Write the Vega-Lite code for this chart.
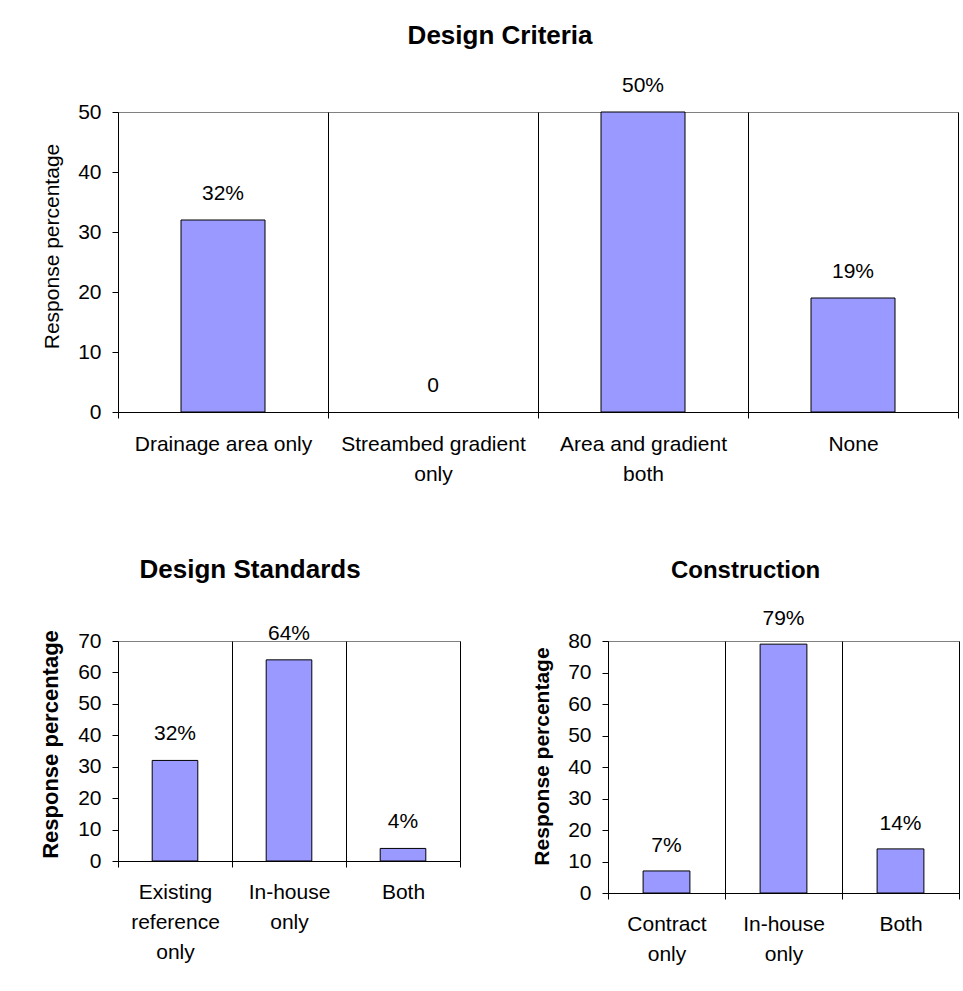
{
  "$schema": "https://vega.github.io/schema/vega-lite/v6.json",
  "padding": {"left": 39, "top": 22, "right": 0, "bottom": 0},
  "background": "white",
  "config": {
    "font": "Liberation Sans",
    "view": {"stroke": "#808080", "strokeWidth": 1},
    "axis": {
      "labelFont": "Liberation Sans", "titleFont": "Liberation Sans",
      "labelColor": "black", "titleColor": "black",
      "domainColor": "black", "tickColor": "black",
      "labelFontSize": 21, "titleFontSize": 21, "tickSize": 6
    },
    "title": {"font": "Liberation Sans", "fontSize": 26, "fontWeight": "bold", "color": "black", "anchor": "middle", "frame": "bounds"},
    "text": {"font": "Liberation Sans", "fontSize": 21, "color": "black"}
  },
  "datasets": {
    "criteria": [
      {"category": "Drainage area only", "value": 32, "label": "32%"},
      {"category": "Streambed gradient only", "value": 0, "label": "0"},
      {"category": "Area and gradient both", "value": 50, "label": "50%"},
      {"category": "None", "value": 19, "label": "19%"}
    ],
    "standards": [
      {"category": "Existing reference only", "value": 32, "label": "32%"},
      {"category": "In-house only", "value": 64, "label": "64%"},
      {"category": "Both", "value": 4, "label": "4%"}
    ],
    "construction": [
      {"category": "Contract only", "value": 7, "label": "7%"},
      {"category": "In-house only", "value": 79, "label": "79%"},
      {"category": "Both", "value": 14, "label": "14%"}
    ]
  },
  "spacing": 71,
  "vconcat": [
    {
      "title": {"text": "Design Criteria", "offset": 26},
      "width": 840,
      "height": 300,
      "data": {"name": "criteria"},
      "encoding": {
        "x": {
          "field": "category", "type": "nominal",
          "sort": ["Drainage area only", "Streambed gradient only", "Area and gradient both", "None"],
          "scale": {"paddingInner": 0, "paddingOuter": 0},
          "axis": {
            "title": null, "labelAngle": 0, "tickBand": "extent",
            "grid": true, "gridOpacity": 1,
            "gridColor": {"condition": {"test": "datum.index < 0", "value": "#808080"}, "value": "black"},
            "labelPadding": 15, "labelLineHeight": 30, "labelLimit": 0,
            "labelExpr": "datum.value == 'Streambed gradient only' ? ['Streambed gradient', 'only'] : datum.value == 'Area and gradient both' ? ['Area and gradient', 'both'] : datum.value"
          }
        },
        "y": {
          "field": "value", "type": "quantitative",
          "scale": {"domain": [0, 50], "nice": false},
          "axis": {"title": "Response percentage", "values": [0, 10, 20, 30, 40, 50], "grid": false, "labelPadding": 11, "titlePadding": 15, "titleFontWeight": "normal", "titleY": 134}
        }
      },
      "layer": [
        {"transform": [{"filter": "datum.value > 0"}], "mark": {"type": "bar", "width": {"band": 0.4}, "fill": "#9999FF", "stroke": "black", "strokeWidth": 1}},
        {"mark": {"type": "text", "baseline": "middle", "dy": -26}, "encoding": {"text": {"field": "label"}}}
      ]
    },
    {
      "spacing": 70,
      "hconcat": [
        {
          "title": {"text": "Design Standards", "offset": 40},
          "width": 342,
          "height": 220,
          "data": {"name": "standards"},
          "encoding": {
            "x": {
              "field": "category", "type": "nominal", "sort": null,
              "scale": {"paddingInner": 0, "paddingOuter": 0},
              "axis": {
                "title": null, "labelAngle": 0, "tickBand": "extent",
                "grid": true, "gridOpacity": 1,
                "gridColor": {"condition": {"test": "datum.index < 0", "value": "#808080"}, "value": "black"},
                "labelPadding": 14, "labelLineHeight": 30, "labelLimit": 0,
                "labelExpr": "datum.value == 'Existing reference only' ? ['Existing', 'reference', 'only'] : datum.value == 'In-house only' ? ['In-house', 'only'] : datum.value"
              }
            },
            "y": {
              "field": "value", "type": "quantitative",
              "scale": {"domain": [0, 70], "nice": false},
              "axis": {"title": "Response percentage", "values": [0, 10, 20, 30, 40, 50, 60, 70], "grid": false, "labelPadding": 11, "titlePadding": 15, "titleFontWeight": "bold", "titleFontSize": 22, "titleY": 103}
            }
          },
          "layer": [
            {"mark": {"type": "bar", "width": {"band": 0.4}, "fill": "#9999FF", "stroke": "black", "strokeWidth": 1}},
            {"mark": {"type": "text", "baseline": "middle", "dy": -26}, "encoding": {"text": {"field": "label"}}}
          ]
        },
        {
          "title": {"text": "Construction", "offset": 25, "fontSize": 24},
          "width": 351,
          "height": 252,
          "data": {"name": "construction"},
          "encoding": {
            "x": {
              "field": "category", "type": "nominal", "sort": null,
              "scale": {"paddingInner": 0, "paddingOuter": 0},
              "axis": {
                "title": null, "labelAngle": 0, "tickBand": "extent",
                "grid": true, "gridOpacity": 1,
                "gridColor": {"condition": {"test": "datum.index < 0", "value": "#808080"}, "value": "black"},
                "labelPadding": 14, "labelLineHeight": 30, "labelLimit": 0,
                "labelExpr": "datum.value == 'Contract only' ? ['Contract', 'only'] : datum.value == 'In-house only' ? ['In-house', 'only'] : datum.value"
              }
            },
            "y": {
              "field": "value", "type": "quantitative",
              "scale": {"domain": [0, 80], "nice": false},
              "axis": {"title": "Response percentage", "values": [0, 10, 20, 30, 40, 50, 60, 70, 80], "grid": false, "labelPadding": 11, "titlePadding": 15, "titleFontWeight": "bold", "titleY": 115}
            }
          },
          "layer": [
            {"mark": {"type": "bar", "width": {"band": 0.4}, "fill": "#9999FF", "stroke": "black", "strokeWidth": 1}},
            {"mark": {"type": "text", "baseline": "middle", "dy": -25}, "encoding": {"text": {"field": "label"}}}
          ]
        }
      ]
    }
  ]
}
